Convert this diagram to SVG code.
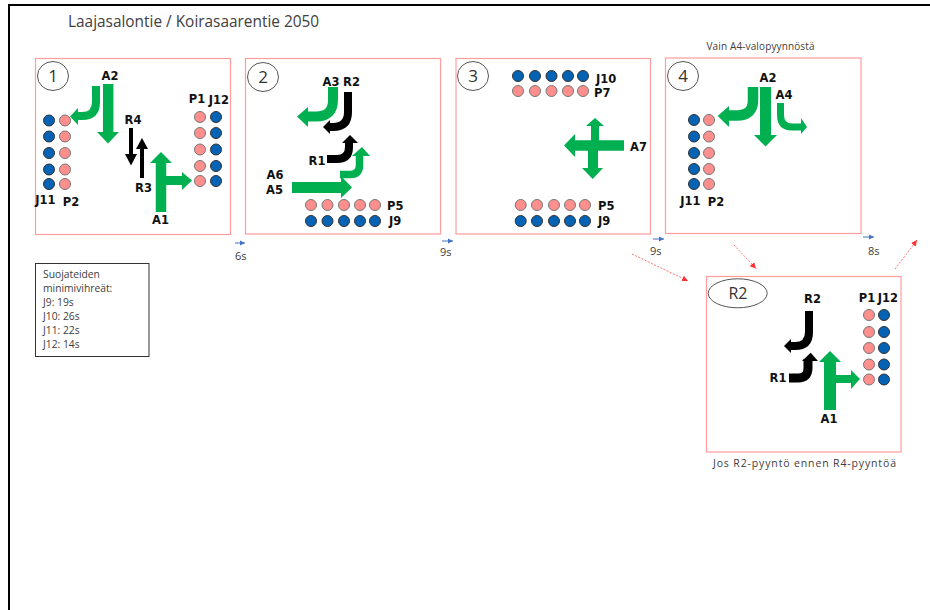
<svg xmlns="http://www.w3.org/2000/svg" width="930" height="610" viewBox="0 0 930 610">
<style>
.panel{fill:#fff;stroke:#ff9c9c;stroke-width:1.2}
.num{fill:#fff;stroke:#555;stroke-width:1}
.n{font:400 17px "Open Sans",sans-serif;fill:#333;text-anchor:middle}
.l{font:700 11.500px "DejaVu Sans",sans-serif;fill:#111;text-anchor:middle}
.ls{font:700 11.500px "DejaVu Sans",sans-serif;fill:#111}
.t{font:400 11px "Open Sans",sans-serif;fill:#404040}
.p{fill:#ff8f8c;stroke:#777;stroke-width:1}
.b{fill:#0563b5;stroke:#333;stroke-width:1}
.gs{fill:none;stroke:#00b050}
.ks{fill:none;stroke:#000}
.gh{fill:#00b050}
.kh{fill:#000}
.blue{stroke:#4472c4;stroke-width:1;fill:none;marker-end:url(#mb)}
.red{stroke:#ff5050;stroke-width:.8;stroke-dasharray:2 1.5;fill:none;marker-end:url(#mr)}
</style>
<defs>
<marker id="mb" markerUnits="userSpaceOnUse" markerWidth="6" markerHeight="6" refX="5" refY="3" orient="auto"><path d="M0 .5L5 3L0 5.500z" fill="#4472c4"/></marker>
<marker id="mr" markerUnits="userSpaceOnUse" markerWidth="7" markerHeight="7" refX="6" refY="3.500" orient="auto"><path d="M0 .5L6 3.500L0 6.500z" fill="#ff3030"/></marker>
</defs>
<rect width="930" height="610" fill="#fff"/>
<path d="M930 5H9V610" fill="none" stroke="#000" stroke-width="2"/>
<text id="title" x="68" y="27" style="font:400 15.400px 'Open Sans',sans-serif;fill:#404040">Laajasalontie / Koirasaarentie 2050</text>

<g id="phase1">
<rect class="panel" x="35.500" y="58.500" width="195" height="176"/>
<ellipse class="num" cx="53" cy="76" rx="15.500" ry="14.500"/><text class="n" x="53" y="82">1</text>
<path class="gs" stroke-width="10.500" d="M108.200 84V134"/><path class="gh" d="M97 132H119L108 143.500z"/>
<path class="gs" stroke-width="8" d="M96 86V102Q96 116 82 116H76"/><path class="gh" d="M78 108V125L70 116.500z"/>
<path class="ks" stroke-width="4" d="M131 128V156"/><path class="kh" d="M125 154H137L131 165.500z"/>
<path class="ks" stroke-width="4" d="M142 178V147"/><path class="kh" d="M136 149H148L142 138z"/>
<path class="gs" stroke-width="10.500" d="M161 212V161"/><path class="gh" d="M150 163H172L161 152z"/>
<path class="gs" stroke-width="9" d="M161 180.500H184"/><path class="gh" d="M182 172V190L192 180.500z"/>
<g><circle class="b" cx="49" cy="120.500" r="5.500"/><circle class="b" cx="49" cy="136.500" r="5.500"/><circle class="b" cx="49" cy="153" r="5.500"/><circle class="b" cx="49" cy="169.500" r="5.500"/><circle class="b" cx="49" cy="184" r="5.500"/>
<circle class="p" cx="65" cy="120.500" r="5.500"/><circle class="p" cx="65" cy="136.500" r="5.500"/><circle class="p" cx="65" cy="153" r="5.500"/><circle class="p" cx="65" cy="169.500" r="5.500"/><circle class="p" cx="65" cy="184" r="5.500"/>
<circle class="p" cx="200" cy="117" r="5.500"/><circle class="p" cx="200" cy="133" r="5.500"/><circle class="p" cx="200" cy="149.500" r="5.500"/><circle class="p" cx="200" cy="166" r="5.500"/><circle class="p" cx="200" cy="181" r="5.500"/>
<circle class="b" cx="216" cy="117" r="5.500"/><circle class="b" cx="216" cy="133" r="5.500"/><circle class="b" cx="216" cy="149.500" r="5.500"/><circle class="b" cx="216" cy="166" r="5.500"/><circle class="b" cx="216" cy="181" r="5.500"/></g>
<text class="l" x="110" y="80">A2</text><text class="l" x="133" y="124">R4</text><text class="l" x="143.500" y="192">R3</text><text class="l" x="160.500" y="224">A1</text><text class="l" x="45.500" y="204">J11</text><text class="l" x="71" y="206">P2</text><text class="l" x="197" y="103">P1</text><text class="l" x="219" y="104">J12</text>
</g>

<g id="phase2">
<rect class="panel" x="245.500" y="58.500" width="195" height="175.500"/>
<ellipse class="num" cx="263" cy="77" rx="15.500" ry="14.500"/><text class="n" x="263" y="83">2</text>
<path class="gs" stroke-width="10" d="M333 87V100Q333 116.500 316 116.500H306"/><path class="gh" d="M308 107V127L297 116.500z"/>
<path class="ks" stroke-width="8" d="M348 92V112Q348 127 333 127H328"/><path class="kh" d="M330 120V134L323 127z"/>
<path class="ks" stroke-width="8" d="M327 159H337Q349 159 349 147V141"/><path class="kh" d="M342 143H358L350 135z"/>
<path class="gs" stroke-width="7.500" d="M340 174.500H350Q359.500 174.500 359.500 165V154"/><path class="gh" d="M352 156H370L362 147z"/>
<path class="gs" stroke-width="11" d="M292 187.500H343"/><path class="gh" d="M341 176V198L352 187.500z"/>
<g><circle class="p" cx="311" cy="205" r="5.500"/><circle class="p" cx="327.500" cy="205" r="5.500"/><circle class="p" cx="344" cy="205" r="5.500"/><circle class="p" cx="360" cy="205" r="5.500"/><circle class="p" cx="375" cy="205" r="5.500"/>
<circle class="b" cx="311" cy="221" r="5.500"/><circle class="b" cx="327.500" cy="221" r="5.500"/><circle class="b" cx="344" cy="221" r="5.500"/><circle class="b" cx="360" cy="221" r="5.500"/><circle class="b" cx="375" cy="221" r="5.500"/></g>
<text class="l" x="331" y="85.500">A3</text><text class="l" x="351.500" y="85.500">R2</text><text class="l" x="317" y="165">R1</text><text class="l" x="275" y="179">A6</text><text class="l" x="274.500" y="194">A5</text><text class="ls" x="387" y="210">P5</text><text class="ls" x="389" y="225">J9</text>
</g>

<g id="phase3">
<rect class="panel" x="456" y="58.500" width="194.500" height="175.500"/>
<ellipse class="num" cx="473" cy="76" rx="15.500" ry="14.500"/><text class="n" x="473" y="82">3</text>
<path class="gs" stroke-width="10.500" d="M624 145.500H573"/><path class="gh" d="M575 134V157L564 145.500z"/>
<path class="gs" stroke-width="10" d="M593 146V170"/><path class="gh" d="M582 168H603L592.700 179z"/>
<path class="gs" stroke-width="8" d="M595 146V124"/><path class="gh" d="M586 126H604L595 118z"/>
<g><circle class="b" cx="518" cy="76" r="5.500"/><circle class="b" cx="535" cy="76" r="5.500"/><circle class="b" cx="551.500" cy="76" r="5.500"/><circle class="b" cx="568" cy="76" r="5.500"/><circle class="b" cx="583" cy="76" r="5.500"/>
<circle class="p" cx="518" cy="91" r="5.500"/><circle class="p" cx="535" cy="91" r="5.500"/><circle class="p" cx="551.500" cy="91" r="5.500"/><circle class="p" cx="568" cy="91" r="5.500"/><circle class="p" cx="583" cy="91" r="5.500"/>
<circle class="p" cx="520.700" cy="205" r="5.500"/><circle class="p" cx="537" cy="205" r="5.500"/><circle class="p" cx="554" cy="205" r="5.500"/><circle class="p" cx="570" cy="205" r="5.500"/><circle class="p" cx="585" cy="205" r="5.500"/>
<circle class="b" cx="520.700" cy="221" r="5.500"/><circle class="b" cx="537" cy="221" r="5.500"/><circle class="b" cx="554" cy="221" r="5.500"/><circle class="b" cx="570" cy="221" r="5.500"/><circle class="b" cx="585" cy="221" r="5.500"/></g>
<text class="ls" x="596" y="82.500">J10</text><text class="ls" x="594" y="97">P7</text><text class="ls" x="598" y="210">P5</text><text class="ls" x="598" y="224.500">J9</text><text class="ls" x="630" y="150.500">A7</text>
</g>

<g id="phase4">
<text class="t" x="706.500" y="49.500" style="font-size:10px" textLength="108">Vain A4-valopyynnöstä</text>
<rect class="panel" x="665.500" y="58" width="195.500" height="175.500"/>
<ellipse class="num" cx="683" cy="76" rx="15.500" ry="14.500"/><text class="n" x="683" y="82">4</text>
<path class="gs" stroke-width="10.500" d="M753 87V100Q753 115.500 737 115.500H727"/><path class="gh" d="M729 106V127L717.700 116z"/>
<path class="gs" stroke-width="11" d="M765.500 87V137"/><path class="gh" d="M754 135H777L765.500 146.500z"/>
<path class="gs" stroke-width="7" d="M780.500 103V115Q780.500 127 792 127H803"/><path class="gh" d="M801 118V134L807 127z"/>
<g><circle class="b" cx="694" cy="120" r="5.500"/><circle class="b" cx="694" cy="136.500" r="5.500"/><circle class="b" cx="694" cy="153" r="5.500"/><circle class="b" cx="694" cy="169" r="5.500"/><circle class="b" cx="694" cy="184" r="5.500"/>
<circle class="p" cx="709" cy="120" r="5.500"/><circle class="p" cx="709" cy="136.500" r="5.500"/><circle class="p" cx="709" cy="153" r="5.500"/><circle class="p" cx="709" cy="169" r="5.500"/><circle class="p" cx="709" cy="184" r="5.500"/></g>
<text class="l" x="768" y="82">A2</text><text class="l" x="784" y="99">A4</text><text class="l" x="690.500" y="205">J11</text><text class="l" x="716" y="206">P2</text>
</g>

<g id="phaseR2">
<rect class="panel" x="706.500" y="276.500" width="194.500" height="175.500"/>
<ellipse class="num" cx="737.700" cy="293.300" rx="29.500" ry="14.500"/><text class="n" x="738" y="299" style="font-size:16px">R2</text>
<path class="ks" stroke-width="8" d="M809 311V332Q809 346 795 346H789"/><path class="kh" d="M791 339V353L784 346z"/>
<path class="ks" stroke-width="9" d="M789 378H798Q808 378 808 368V359"/><path class="kh" d="M802 361H818L810.700 352.700z"/>
<path class="gs" stroke-width="12" d="M830 410V360"/><path class="gh" d="M819 362H841L830 351z"/>
<path class="gs" stroke-width="8" d="M830 379H853"/><path class="gh" d="M851 370V389L860 379z"/>
<g><circle class="p" cx="869" cy="315" r="5.500"/><circle class="p" cx="869" cy="332" r="5.500"/><circle class="p" cx="869" cy="348" r="5.500"/><circle class="p" cx="869" cy="364.500" r="5.500"/><circle class="p" cx="869" cy="379.500" r="5.500"/>
<circle class="b" cx="884" cy="315" r="5.500"/><circle class="b" cx="884" cy="332" r="5.500"/><circle class="b" cx="884" cy="348" r="5.500"/><circle class="b" cx="884" cy="364.500" r="5.500"/><circle class="b" cx="884" cy="379.500" r="5.500"/></g>
<text class="l" x="812.500" y="303">R2</text><text class="l" x="778" y="382">R1</text><text class="l" x="829" y="423">A1</text><text class="l" x="867" y="302">P1</text><text class="l" x="888" y="302">J12</text>
<text class="t" x="713" y="467" style="font-size:10.500px" textLength="183">Jos R2-pyyntö ennen R4-pyyntöä</text>
</g>

<g id="note">
<rect x="35.500" y="263.500" width="113.500" height="93" fill="#fff" stroke="#333" stroke-width="1"/>
<g class="t" style="font-size:10.300px"><text x="43" y="278">Suojateiden</text><text x="43" y="292">minimivihreät:</text><text x="43" y="306">J9: 19s</text><text x="43" y="320">J10: 26s</text><text x="43" y="334">J11: 22s</text><text x="43" y="348">J12: 14s</text></g>
</g>

<g id="connectors">
<path class="blue" d="M235 243H245"/><path class="blue" d="M442 241H453"/><path class="blue" d="M653 239H664"/><path class="blue" d="M863 237H874"/>
<path class="red" d="M632 254L688 281"/><path class="red" d="M734 245L756 268.500"/><path class="red" d="M895 269L917 240"/>
<text class="t" x="235" y="259.500">6s</text><text class="t" x="440" y="256">9s</text><text class="t" x="650" y="254.500">9s</text><text class="t" x="868" y="255">8s</text>
</g>
</svg>
